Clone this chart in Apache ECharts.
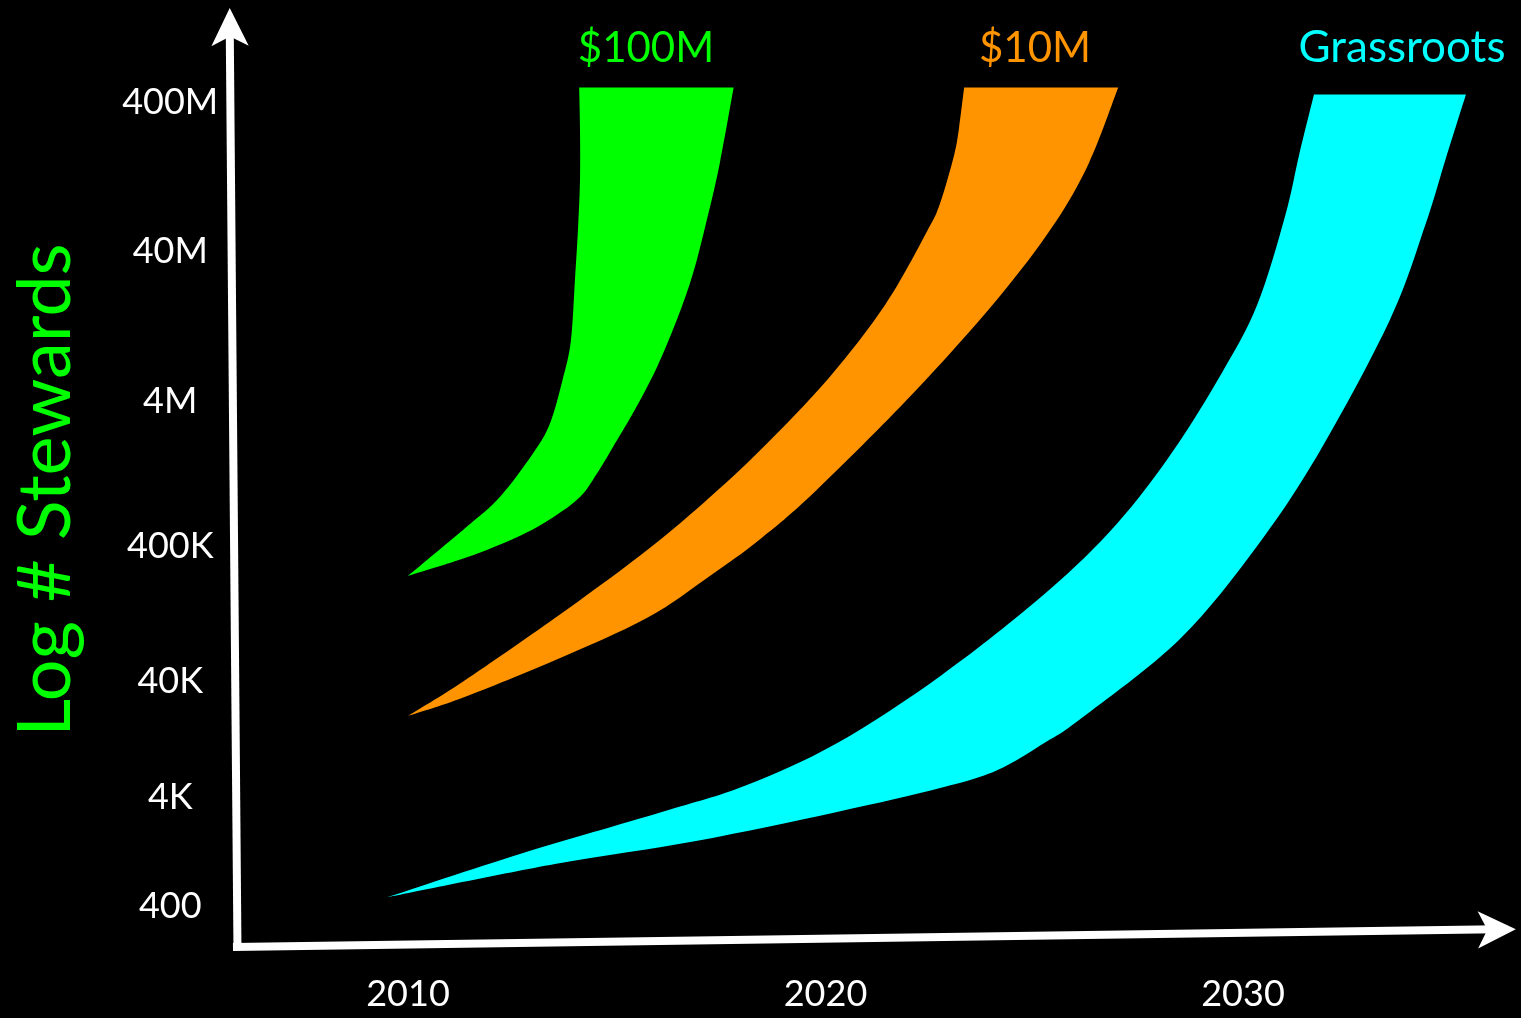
<!DOCTYPE html>
<html>
<head>
<meta charset="utf-8">
<style>
html,body{margin:0;padding:0;background:#000;}
#chart{width:1521px;height:1018px;}
</style>
<script src="https://cdn.jsdelivr.net/npm/echarts@6/dist/echarts.min.js"></script>
</head>
<body>
<div id="chart"></div>
<script>
// ---------- data ----------
const yTickLabels = ['400', '4K', '40K', '400K', '4M', '40M', '400M'];
const yTickValues = [400, 4000, 40000, 400000, 4000000, 40000000, 400000000];
const xTickValues = [2010, 2020, 2030];
const bandNames = ['$100M', '$10M', 'Grassroots'];

// band outlines: [year, stewards], traced round each band
const band100M = [
  [2010.0, 2.4e5], [2011.4, 5.4e5], [2012.2, 8.7e5], [2013.0, 1.75e6], [2013.4, 2.8e6],
  [2013.7, 5.5e6], [2013.9, 1.0e7], [2014.0, 2.6e7], [2014.07, 5.5e7], [2014.12, 1.2e8],
  [2014.12, 2.6e8], [2014.1, 5.0e8],
  [2017.8, 5.0e8], [2017.47, 1.56e8], [2017.16, 6.5e7], [2016.83, 2.85e7], [2016.44, 1.39e7],
  [2015.96, 6.7e6], [2015.39, 3.3e6], [2014.91, 1.93e6], [2014.53, 1.27e6], [2014.12, 8.7e5],
  [2013.47, 6.3e5], [2012.61, 4.6e5], [2011.41, 3.3e5]
];
const band10M = [
  [2010.0, 2.0e4], [2011.34, 4.0e4], [2013.52, 1.17e5], [2015.56, 3.4e5], [2017.07, 7.9e5],
  [2018.41, 1.8e6], [2020.08, 5.7e6], [2021.43, 1.75e7], [2022.43, 5.4e7], [2022.74, 8.3e7],
  [2023.08, 1.76e8], [2023.2, 2.7e8], [2023.32, 5.0e8],
  [2027.01, 5.0e8], [2026.31, 1.56e8], [2025.45, 5.9e7], [2024.11, 1.9e7], [2022.10, 4.5e6],
  [2019.75, 9.5e5], [2018.41, 4.4e5], [2017.23, 2.4e5], [2015.72, 1.17e5], [2013.52, 5.7e4],
  [2011.34, 2.9e4]
];
const bandGrassroots = [
  [2009.5, 480], [2012.68, 1200], [2016.06, 2900], [2018.07, 5000], [2020.25, 1.15e4],
  [2022.77, 4.4e4], [2025.28, 1.8e5], [2026.98, 5.7e5], [2028.32, 1.8e6], [2029.5, 6.2e6],
  [2030.34, 1.75e7], [2031.01, 6.9e7], [2031.35, 1.8e8], [2031.7, 4.5e8],
  [2035.34, 4.5e8], [2034.86, 1.68e8], [2034.36, 5.9e7], [2033.52, 1.39e7], [2031.84, 1.8e6],
  [2030.34, 4.0e5], [2028.49, 8.2e4], [2026.12, 1.9e4], [2025.28, 1.19e4], [2024.11, 6800],
  [2022.77, 4800], [2020.25, 2900], [2016.9, 1580], [2013.52, 970]
];

// ---------- layout (hand-drawn, uneven log scale) ----------
const yTickPos = [39, 148, 264, 399, 544, 694, 843]; // axis position of each tick label
function warp(v) {
  const d = Math.log10(v / 400);
  let i = Math.floor(d);
  if (i < 0) i = 0;
  if (i > 5) i = 5;
  return yTickPos[i] + (d - i) * (yTickPos[i + 1] - yTickPos[i]);
}

const colors = ['#00ff00', '#ff9400', '#00ffff'];
const bands = [band100M, band10M, bandGrassroots];
const FONT = 'Lato, "Open Sans", sans-serif';

// smooth curve (Catmull-Rom as cubic Bezier) through pixel points
function curveThrough(pts) {
  let d = '';
  for (let i = 0; i < pts.length - 1; i++) {
    const p0 = pts[i - 1] || pts[i];
    const p1 = pts[i];
    const p2 = pts[i + 1];
    const p3 = pts[i + 2] || p2;
    const c1 = [p1[0] + (p2[0] - p0[0]) / 6, p1[1] + (p2[1] - p0[1]) / 6];
    const c2 = [p2[0] - (p3[0] - p1[0]) / 6, p2[1] - (p3[1] - p1[1]) / 6];
    d += ' C' + c1[0].toFixed(2) + ',' + c1[1].toFixed(2) + ' ' + c2[0].toFixed(2) + ',' +
      c2[1].toFixed(2) + ' ' + p2[0].toFixed(2) + ',' + p2[1].toFixed(2);
  }
  return d;
}

function bandSeries(idx) {
  const raw = bands[idx];
  const pts = raw.map(p => [p[0], warp(p[1])]);
  let maxV = -Infinity, topIdx = 0;
  raw.forEach((p, i) => { if (p[1] > maxV) { maxV = p[1]; topIdx = i; } });
  return {
    type: 'custom',
    name: bandNames[idx],
    coordinateSystem: 'cartesian2d',
    silent: true,
    clip: false,
    data: [pts[0]],
    renderItem: function (params, api) {
      const px = pts.map(p => api.coord(p));
      const left = px.slice(0, topIdx + 1);
      const right = px.slice(topIdx + 1).concat([px[0]]);
      let d = 'M' + px[0][0].toFixed(2) + ',' + px[0][1].toFixed(2);
      d += curveThrough(left);
      d += ' L' + right[0][0].toFixed(2) + ',' + right[0][1].toFixed(2);
      d += curveThrough(right);
      d += ' Z';
      return {
        type: 'path',
        shape: { pathData: d },
        style: { fill: colors[idx] }
      };
    }
  };
}

const chart = echarts.init(document.getElementById('chart'), null, { renderer: 'canvas' });
chart.setOption({
  backgroundColor: '#000000',
  animation: false,
  grid: { left: 199.25, right: 6.625, top: 15, bottom: 53, containLabel: false, outerBoundsMode: 'none' },
  xAxis: {
    type: 'value', min: 2005, max: 2036.5,
    axisLine: { show: false }, axisTick: { show: false }, splitLine: { show: false },
    axisLabel: {
      customValues: xTickValues, color: '#ffffff', fontFamily: FONT, fontSize: 36,
      margin: 11, formatter: v => String(v)
    }
  },
  yAxis: {
    type: 'value', min: -20, max: 930,
    axisLine: { show: false }, axisTick: { show: false }, splitLine: { show: false },
    name: 'Log # Stewards', nameLocation: 'middle', nameRotate: 90, nameGap: 116,
    nameTextStyle: { color: '#00ff00', fontFamily: FONT, fontSize: 74 },
    axisLabel: {
      customValues: yTickPos, color: '#ffffff', fontFamily: FONT, fontSize: 36,
      align: 'center', margin: 29,
      formatter: v => { const i = yTickPos.indexOf(v); return i >= 0 ? yTickLabels[i] : ''; }
    }
  },
  graphic: [
    { type: 'text', x: 646, y: 48, style: { text: bandNames[0], fill: colors[0], font: '42px ' + FONT, align: 'center', verticalAlign: 'middle' } },
    { type: 'text', x: 1035, y: 48, style: { text: bandNames[1], fill: colors[1], font: '42px ' + FONT, align: 'center', verticalAlign: 'middle' } },
    { type: 'text', x: 1402, y: 48, style: { text: bandNames[2], fill: colors[2], font: '44px ' + FONT, align: 'center', verticalAlign: 'middle' } }
  ],
  series: [
    bandSeries(0), bandSeries(1), bandSeries(2),
    {
      type: 'line', data: [], silent: true, clip: false,
      markLine: {
        silent: true, animation: false, symbol: 'none',
        lineStyle: { color: '#ffffff', width: 8, type: 'solid' },
        label: { show: false },
        data: [
          [{ coord: [2005.916, -5] }, { coord: [2005.73, 917] }],
          [{ coord: [2005.808, -2] }, { coord: [2036.06, 15.7] }]
        ]
      },
      markPoint: {
        silent: true, animation: false,
        symbol: 'arrow', symbolSize: [28, 38],
        itemStyle: { color: '#ffffff' },
        label: { show: false },
        data: [
          { coord: [2005.73, 918], symbolRotate: 0.5, symbolOffset: [0, -19] },
          { coord: [2036.08, 15.7], symbolRotate: -89.24, symbolOffset: [19, 0] }
        ]
      }
    }
  ]
});
</script>
</body>
</html>
